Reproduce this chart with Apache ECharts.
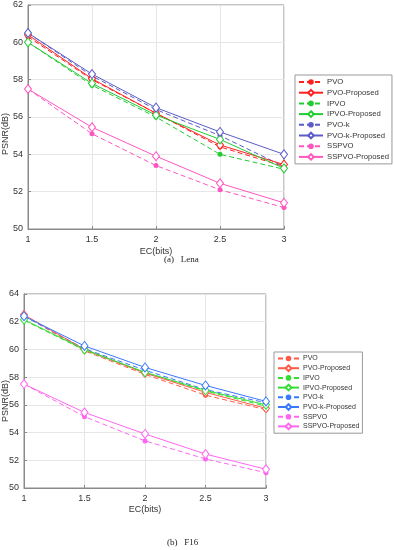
<!DOCTYPE html>
<html>
<head>
<meta charset="utf-8">
<script src="https://cdn.jsdelivr.net/npm/echarts@6/dist/echarts.min.js"></script>
<style>
html,body{margin:0;padding:0;background:#fff;}
#c1{position:absolute;left:0;top:0;width:394px;height:276px;}
#c2{position:absolute;left:0;top:262px;width:394px;height:288px;}
</style>
</head>
<body>
<div id="c1"></div>
<div id="c2"></div>
<script>
// shared
const ecBits = [1, 1.5, 2, 2.5, 3];
const seriesNames = ['PVO', 'PVO-Proposed', 'IPVO', 'IPVO-Proposed', 'PVO-k', 'PVO-k-Proposed', 'SSPVO', 'SSPVO-Proposed'];

// (a) Lena
const lenaPVO          = [60.3, 58.0, 56.2, 54.4, 53.35];
const lenaPVOProp      = [60.4, 58.05, 56.2, 54.5, 53.45];
const lenaIPVO         = [60.0, 57.7, 56.0, 54.0, 53.2];
const lenaIPVOProp     = [60.0, 57.8, 56.1, 54.8, 53.25];
const lenaPVOk         = [60.5, 58.2, 56.4, 55.0, 53.35];
const lenaPVOkProp     = [60.5, 58.3, 56.5, 55.2, 54.0];
const lenaSSPVO        = [57.5, 55.1, 53.4, 52.1, 51.15];
const lenaSSPVOProp    = [57.5, 55.45, 53.9, 52.45, 51.4];

// (b) F16
const f16PVO           = [62.45, 59.9, 58.2, 56.7, 55.65];
const f16PVOProp       = [62.5, 60.0, 58.3, 56.9, 55.75];
const f16IPVO          = [62.1, 59.95, 58.3, 57.0, 55.9];
const f16IPVOProp      = [62.15, 60.0, 58.35, 57.05, 56.0];
const f16PVOk          = [62.4, 60.05, 58.5, 57.1, 56.15];
const f16PVOkProp      = [62.4, 60.25, 58.7, 57.4, 56.25];
const f16SSPVO         = [57.5, 55.15, 53.4, 52.1, 51.1];
const f16SSPVOProp     = [57.5, 55.45, 53.9, 52.45, 51.35];

const lenaYTicks = [50, 62, 2];
const f16YTicks = [50, 64, 2];

function pairs(vals){ return ecBits.map((x,i)=>[x, vals[i]]); }

function mkSeries(name, vals, color, proposed){
  return {
    name: name, type: 'line', data: pairs(vals),
    symbol: proposed ? 'diamond' : 'circle',
    symbolSize: proposed ? [7,9] : 5,
    showAllSymbol: true,
    lineStyle: {color: color, width: 1, type: proposed ? 'solid' : [5,3]},
    itemStyle: proposed ? {color: '#fff', borderColor: color, borderWidth: 1} : {color: color, borderColor: color, borderWidth: 0},
    emphasis: {disabled: true},
    animation: false,
    z: proposed ? 3 : 2
  };
}

function build(el, cfg){
  const chart = echarts.init(el, null, {renderer: 'canvas'});
  const vals = cfg.vals;
  const cols = cfg.colors;
  const series = seriesNames.map((n,i)=>mkSeries(n, vals[i], cols[Math.floor(i/2)], i%2===1));
  chart.setOption({
    animation: false,
    grid: {left: cfg.left, top: cfg.top, width: cfg.width, height: cfg.height, show: true, borderColor: '#8a8a8a', borderWidth: 1, backgroundColor: 'transparent'},
    xAxis: {type: 'value', min: 1, max: 3, interval: 0.5,
      axisLine: {show: true, lineStyle: {color: '#8a8a8a'}},
      axisTick: {show: true, inside: true, length: 3, lineStyle: {color: '#8a8a8a'}},
      axisLabel: {color: '#333', fontSize: 9, fontFamily: 'Liberation Sans', margin: 6},
      splitLine: {show: true, lineStyle: {color: '#e6e6e6', width: 1}},
      name: 'EC(bits)', nameLocation: 'middle', nameGap: cfg.xNameGap, nameMoveOverlap: false,
      nameTextStyle: {color: '#333', fontSize: 9, fontFamily: 'Liberation Sans'}
    },
    yAxis: {type: 'value', min: cfg.yTicks[0], max: cfg.yTicks[1], interval: cfg.yTicks[2],
      axisLine: {show: true, lineStyle: {color: '#8a8a8a'}},
      axisTick: {show: true, inside: true, length: 3, lineStyle: {color: '#8a8a8a'}},
      axisLabel: {color: '#333', fontSize: 9, fontFamily: 'Liberation Sans', margin: 5},
      splitLine: {show: true, lineStyle: {color: '#e6e6e6', width: 1}}
    },
    legend: {
      orient: 'vertical', left: cfg.legend.left, top: cfg.legend.top,
      itemWidth: cfg.legend.itemWidth, itemHeight: 7, itemGap: cfg.legend.gap,
      padding: cfg.legend.padding,
      borderColor: '#999', borderWidth: 1, backgroundColor: '#fff',
      textStyle: {color: '#333', fontSize: cfg.legend.fontSize, fontFamily: 'Liberation Sans', padding: [0,0,0,-1]},
      data: seriesNames, selectedMode: false
    },
    graphic: [
      {type: 'text', left: cfg.yNameX, top: cfg.yNameY, rotation: Math.PI/2,
        style: {text: 'PSNR(dB)', fill: '#333', font: '9px "Liberation Sans"', textAlign: 'center', textVerticalAlign: 'middle'}},
      {type: 'text', left: cfg.capX, top: cfg.capY,
        style: {text: cfg.caption, fill: '#222', font: '9px "Liberation Serif"'}}
    ],
    series: series
  });
}

build(document.getElementById('c1'), {
  left: 28, top: 5, width: 256, height: 224, yTicks: lenaYTicks, xNameGap: 18,
  vals: [lenaPVO, lenaPVOProp, lenaIPVO, lenaIPVOProp, lenaPVOk, lenaPVOkProp, lenaSSPVO, lenaSSPVOProp],
  colors: ['#ff2020', '#22cc33', '#5a5ac8', '#ff55c0'],
  legend: {left: 295, top: 75, itemWidth: 24, gap: 2.7, fontSize: 7.7, padding: [3, 3, 3, 3]},
  yNameX: 1, yNameY: 113, caption: '(a)   Lena', capX: 164, capY: 255
});

build(document.getElementById('c2'), {
  left: 24, top: 32, width: 242, height: 194, yTicks: f16YTicks, xNameGap: 17,
  vals: [f16PVO, f16PVOProp, f16IPVO, f16IPVOProp, f16PVOk, f16PVOkProp, f16SSPVO, f16SSPVOProp],
  colors: ['#ff5a48', '#33dd33', '#3a78ff', '#ff66f0'],
  legend: {left: 274, top: 352-262, itemWidth: 21, gap: 2.4, fontSize: 7, padding: [3, 3, 3, 3]},
  yNameX: 1, yNameY: 118, caption: '(b)   F16', capX: 167, capY: 276
});
</script>
</body>
</html>
